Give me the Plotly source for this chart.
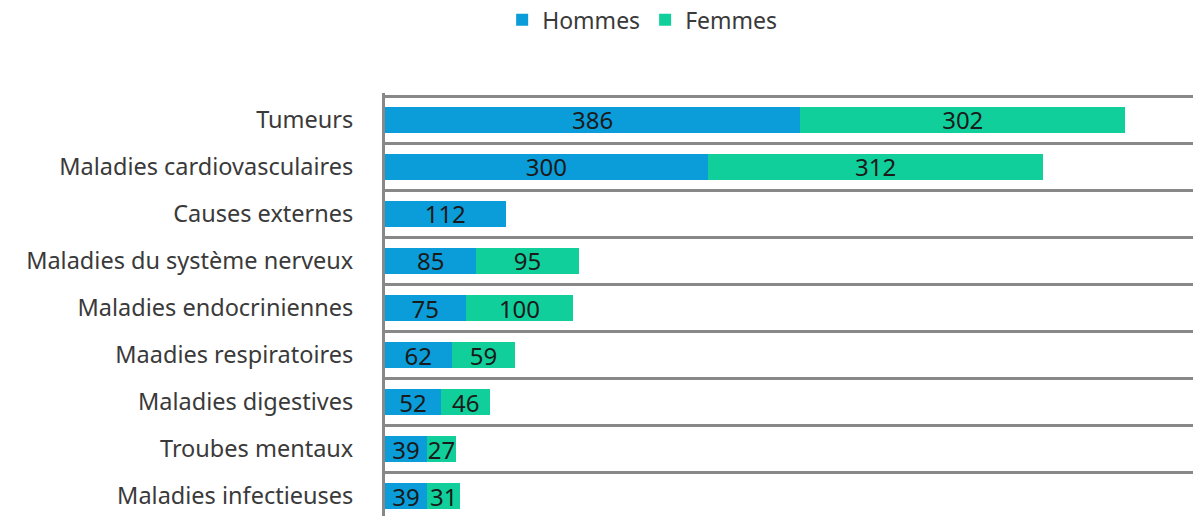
import plotly.graph_objects as go

categories = ["Tumeurs", "Maladies cardiovasculaires", "Causes externes",
              "Maladies du système nerveux", "Maladies endocriniennes",
              "Maadies respiratoires", "Maladies digestives",
              "Troubes mentaux", "Maladies infectieuses"]
hommes = [386, 300, 112, 85, 75, 62, 52, 39, 39]
femmes = [302, 312, None, 95, 100, 59, 46, 27, 31]

FONT = "Noto Sans"
TXT = "#3a3a3a"
fig = go.Figure()
fig.add_trace(go.Bar(y=categories, x=hommes, name="Hommes", orientation="h",
                     marker=dict(color="#0A9DD9", line=dict(width=0)),
                     text=hommes, textposition="inside", insidetextanchor="middle",
                     textangle=0, textfont=dict(color="#1a1a1a", size=24, family=FONT),
                     hoverinfo="x+name"))
fig.add_trace(go.Bar(y=categories, x=femmes, name="Femmes", orientation="h",
                     marker=dict(color="#10CF9B", line=dict(width=0)),
                     text=femmes, textposition="inside", insidetextanchor="middle",
                     textangle=0, textfont=dict(color="#1a1a1a", size=24, family=FONT),
                     hoverinfo="x+name"))
fig.update_layout(
    barmode="stack", bargap=0.45,
    width=1193, height=516,
    margin=dict(l=385, r=0, t=93, b=0, autoexpand=False),
    paper_bgcolor="white", plot_bgcolor="white",
    font=dict(family=FONT, size=23.5, color=TXT),
    uniformtext=dict(minsize=22, mode="show"),
    showlegend=True,
    legend=dict(orientation="h", x=0.145, xanchor="left", y=1.173, yanchor="middle",
                font=dict(size=23, color=TXT), itemwidth=30, traceorder="normal"),
    xaxis=dict(range=[0, 751], showgrid=False, zeroline=False, showticklabels=False,
               showline=False, ticks=""),
    yaxis=dict(type="category", categoryorder="array", categoryarray=categories,
               range=[8.42, -0.57], tickson="boundaries", showgrid=True,
               gridcolor="#888888", gridwidth=2.5, showline=True, linecolor="#888888",
               linewidth=3, ticks="", ticklabelstandoff=24,
               tickfont=dict(size=23.5, color=TXT)),
)
fig.write_html("out.html", config={"displayModeBar": False},
               post_script="document.body.style.margin='0';document.body.style.overflow='hidden';")
